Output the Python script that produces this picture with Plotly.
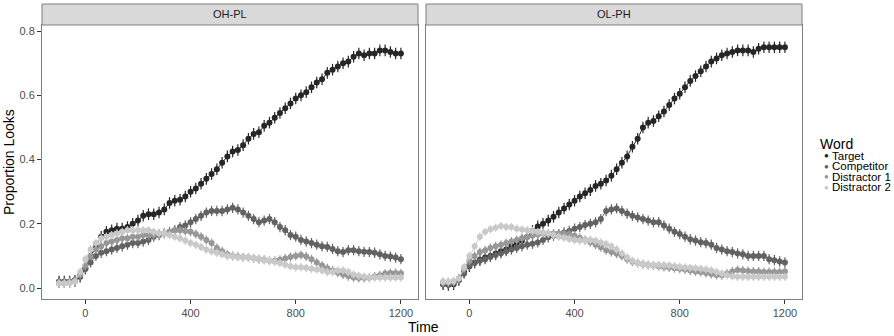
import plotly.graph_objects as go

W, H = 894, 336

time = list(range(-100, 1201, 20))

panels = ["OH-PL", "OL-PH"]
words = ["Target", "Competitor", "Distractor 1", "Distractor 2"]
colors = ["#262626", "#626262", "#979797", "#c9c9c9"]
word_se = [0.018, 0.016, 0.014, 0.013]

ohpl_target = [0.02, 0.02, 0.02, 0.022, 0.035, 0.06, 0.10, 0.13, 0.16, 0.175, 0.18, 0.185, 0.185, 0.19, 0.2, 0.21,
               0.225, 0.23, 0.23, 0.235, 0.245, 0.265, 0.272, 0.275, 0.285, 0.30, 0.31, 0.325, 0.34, 0.355, 0.37,
               0.39, 0.41, 0.425, 0.43, 0.445, 0.465, 0.48, 0.485, 0.505, 0.515, 0.53, 0.545, 0.56, 0.575, 0.59,
               0.6, 0.61, 0.625, 0.64, 0.65, 0.67, 0.68, 0.69, 0.70, 0.705, 0.72, 0.73, 0.725, 0.73, 0.73, 0.74,
               0.74, 0.735, 0.73, 0.73]
ohpl_competitor = [0.02, 0.02, 0.02, 0.025, 0.04, 0.06, 0.08, 0.10, 0.11, 0.115, 0.12, 0.125, 0.13, 0.135, 0.14,
                   0.14, 0.145, 0.15, 0.16, 0.165, 0.17, 0.175, 0.18, 0.19, 0.195, 0.205, 0.215, 0.225, 0.235, 0.24,
                   0.24, 0.24, 0.245, 0.25, 0.245, 0.235, 0.225, 0.215, 0.205, 0.21, 0.215, 0.205, 0.19, 0.18,
                   0.165, 0.16, 0.15, 0.145, 0.14, 0.135, 0.13, 0.128, 0.122, 0.115, 0.112, 0.118, 0.118, 0.115,
                   0.113, 0.112, 0.11, 0.105, 0.10, 0.098, 0.095, 0.09]
ohpl_distractor1 = [0.015, 0.015, 0.018, 0.022, 0.04, 0.07, 0.10, 0.12, 0.13, 0.14, 0.145, 0.15, 0.155, 0.155, 0.16,
                    0.16, 0.165, 0.165, 0.165, 0.17, 0.17, 0.175, 0.18, 0.18, 0.178, 0.175, 0.168, 0.16, 0.15, 0.14,
                    0.125, 0.115, 0.105, 0.10, 0.098, 0.096, 0.095, 0.093, 0.09, 0.088, 0.085, 0.085, 0.088, 0.092,
                    0.097, 0.10, 0.103, 0.098, 0.09, 0.08, 0.07, 0.062, 0.055, 0.048, 0.042, 0.037, 0.033, 0.031,
                    0.031, 0.032, 0.036, 0.04, 0.045, 0.047, 0.047, 0.046]
ohpl_distractor2 = [0.015, 0.015, 0.015, 0.02, 0.05, 0.09, 0.12, 0.14, 0.155, 0.16, 0.165, 0.17, 0.175, 0.18, 0.18,
                    0.18, 0.18, 0.18, 0.175, 0.17, 0.17, 0.165, 0.16, 0.155, 0.148, 0.14, 0.135, 0.128, 0.12, 0.115,
                    0.11, 0.105, 0.10, 0.098, 0.097, 0.096, 0.095, 0.093, 0.09, 0.087, 0.085, 0.082, 0.078, 0.073,
                    0.068, 0.065, 0.065, 0.063, 0.06, 0.058, 0.055, 0.05, 0.05, 0.055, 0.055, 0.05, 0.042, 0.038,
                    0.035, 0.033, 0.033, 0.033, 0.033, 0.033, 0.033, 0.033]

olph_target = [0.012, 0.01, 0.012, 0.025, 0.05, 0.068, 0.08, 0.088, 0.095, 0.10, 0.108, 0.115, 0.12, 0.13, 0.14,
               0.148, 0.16, 0.178, 0.192, 0.20, 0.21, 0.222, 0.235, 0.248, 0.26, 0.272, 0.285, 0.295, 0.305, 0.318,
               0.325, 0.335, 0.35, 0.37, 0.39, 0.41, 0.44, 0.465, 0.50, 0.515, 0.52, 0.535, 0.55, 0.57, 0.59, 0.605,
               0.625, 0.645, 0.66, 0.675, 0.69, 0.705, 0.715, 0.725, 0.73, 0.735, 0.74, 0.74, 0.74, 0.735, 0.745,
               0.75, 0.75, 0.75, 0.75, 0.75]
olph_competitor = [0.012, 0.012, 0.015, 0.025, 0.045, 0.07, 0.078, 0.085, 0.09, 0.097, 0.103, 0.108, 0.115, 0.12,
                   0.125, 0.13, 0.135, 0.138, 0.142, 0.15, 0.158, 0.163, 0.168, 0.173, 0.178, 0.185, 0.19, 0.196,
                   0.20, 0.205, 0.215, 0.24, 0.245, 0.248, 0.24, 0.232, 0.225, 0.22, 0.215, 0.21, 0.205, 0.205,
                   0.195, 0.185, 0.175, 0.168, 0.16, 0.152, 0.148, 0.143, 0.14, 0.135, 0.125, 0.12, 0.115, 0.112,
                   0.108, 0.105, 0.10, 0.10, 0.10, 0.10, 0.09, 0.087, 0.083, 0.08]
olph_distractor1 = [0.018, 0.018, 0.02, 0.03, 0.06, 0.085, 0.10, 0.112, 0.118, 0.125, 0.13, 0.135, 0.14, 0.145, 0.15,
                    0.155, 0.16, 0.163, 0.167, 0.17, 0.17, 0.17, 0.17, 0.17, 0.168, 0.163, 0.157, 0.15, 0.143, 0.135,
                    0.127, 0.118, 0.112, 0.107, 0.10, 0.09, 0.082, 0.078, 0.074, 0.072, 0.07, 0.068, 0.066, 0.064,
                    0.062, 0.06, 0.058, 0.055, 0.052, 0.05, 0.047, 0.044, 0.041, 0.04, 0.045, 0.052, 0.056, 0.055,
                    0.053, 0.052, 0.052, 0.05, 0.05, 0.05, 0.05, 0.052]
olph_distractor2 = [0.02, 0.02, 0.022, 0.03, 0.065, 0.10, 0.13, 0.16, 0.175, 0.183, 0.188, 0.193, 0.19, 0.19, 0.185,
                    0.182, 0.18, 0.178, 0.175, 0.173, 0.17, 0.165, 0.16, 0.157, 0.153, 0.15, 0.148, 0.148, 0.15,
                    0.147, 0.142, 0.137, 0.13, 0.12, 0.108, 0.095, 0.085, 0.078, 0.075, 0.072, 0.072, 0.072, 0.071,
                    0.07, 0.068, 0.066, 0.064, 0.063, 0.062, 0.06, 0.058, 0.055, 0.05, 0.045, 0.04, 0.037, 0.035,
                    0.035, 0.035, 0.035, 0.035, 0.035, 0.035, 0.035, 0.035, 0.035]

series = {
    "OH-PL": [ohpl_target, ohpl_competitor, ohpl_distractor1, ohpl_distractor2],
    "OL-PH": [olph_target, olph_competitor, olph_distractor1, olph_distractor2],
}

x_ticks = [0, 400, 800, 1200]
y_ticks = [0.0, 0.2, 0.4, 0.6, 0.8]
y_tick_labels = ["0.0", "0.2", "0.4", "0.6", "0.8"]

FONT = "Liberation Sans, Arial, Helvetica, sans-serif"

# layout in pixels
plot_top, plot_bottom = 25, 299
strip_top = 4
panel_px = [(42, 418), (426, 802)]


def px(x):
    return x / W


def py(y):
    return (H - y) / H


fig = go.Figure()

for pi, panel in enumerate(panels):
    xa = "x" if pi == 0 else "x2"
    ya = "y" if pi == 0 else "y2"
    for wi, word in enumerate(words):
        vals = series[panel][wi]
        fig.add_trace(go.Scatter(
            x=time, y=vals, mode="lines+markers", name=word,
            xaxis=xa, yaxis=ya, showlegend=False,
            line=dict(color=colors[wi], width=1),
            marker=dict(color=colors[wi], size=6, line=dict(width=0)),
            error_y=dict(type="constant", value=word_se[wi], color=colors[wi],
                         thickness=1.2, width=0),
        ))

axis_common = dict(
    range=[-165, 1265], tickvals=x_ticks, ticks="outside", ticklen=4, tickcolor="#333333",
    tickfont=dict(family=FONT, size=11, color="#4d4d4d"), showgrid=False, zeroline=False,
    showline=True, linecolor="#7f7f7f", linewidth=1, mirror=True,
)
yaxis_common = dict(
    range=[-0.034, 0.819], tickvals=y_ticks, ticktext=y_tick_labels, ticks="outside", ticklen=4,
    tickcolor="#333333", tickfont=dict(family=FONT, size=11, color="#4d4d4d"), showgrid=False,
    zeroline=False, showline=True, linecolor="#7f7f7f", linewidth=1, mirror=True,
)

fig.update_layout(
    width=W, height=H,
    margin=dict(l=0, r=0, t=0, b=0),
    paper_bgcolor="white", plot_bgcolor="white",
    xaxis=dict(axis_common, domain=[px(panel_px[0][0]), px(panel_px[0][1])], anchor="y"),
    xaxis2=dict(axis_common, domain=[px(panel_px[1][0]), px(panel_px[1][1])], anchor="y2"),
    yaxis=dict(yaxis_common, domain=[py(plot_bottom), py(plot_top)], anchor="x"),
    yaxis2=dict(yaxis_common, domain=[py(plot_bottom), py(plot_top)], anchor="x2",
                showticklabels=False, ticks=""),
    showlegend=False,
)

shapes = []
annotations = []
for pi, panel in enumerate(panels):
    x0, x1 = panel_px[pi]
    shapes.append(dict(type="rect", xref="paper", yref="paper",
                       x0=px(x0), x1=px(x1), y0=py(plot_top), y1=py(strip_top),
                       fillcolor="#d9d9d9", line=dict(color="#7f7f7f", width=1)))
    annotations.append(dict(text=panel, xref="paper", yref="paper",
                            x=px((x0 + x1) / 2), y=py((strip_top + plot_top) / 2),
                            xanchor="center", yanchor="middle", showarrow=False,
                            font=dict(family=FONT, size=11, color="#1a1a1a")))

# axis titles
annotations.append(dict(text="Time", xref="paper", yref="paper", x=px(423), y=py(327),
                        xanchor="center", yanchor="middle", showarrow=False,
                        font=dict(family=FONT, size=14, color="black")))
annotations.append(dict(text="Proportion Looks", xref="paper", yref="paper", x=px(9), y=py(162),
                        xanchor="center", yanchor="middle", showarrow=False, textangle=-90,
                        font=dict(family=FONT, size=14, color="black")))

# legend (drawn as text, to keep the tight ggplot spacing)
annotations.append(dict(text="Word", xref="paper", yref="paper", x=px(819), y=py(144),
                        xanchor="left", yanchor="middle", showarrow=False, borderpad=0,
                        font=dict(family=FONT, size=14, color="black")))
leg_y = [155.5, 166, 176.5, 187]
for wi, word in enumerate(words):
    annotations.append(dict(text="●", xref="paper", yref="paper", x=px(826), y=py(leg_y[wi]),
                            xanchor="center", yanchor="middle", showarrow=False, borderpad=0,
                            font=dict(family=FONT, size=8, color=colors[wi])))
    annotations.append(dict(text=word, xref="paper", yref="paper", x=px(831), y=py(leg_y[wi]),
                            xanchor="left", yanchor="middle", showarrow=False, borderpad=0,
                            font=dict(family=FONT, size=11.5, color="black")))

fig.update_layout(shapes=shapes, annotations=annotations)

fig.write_html("out.html", config={"displayModeBar": False},
               post_script="document.body.style.margin='0';document.body.style.overflow='hidden';")
